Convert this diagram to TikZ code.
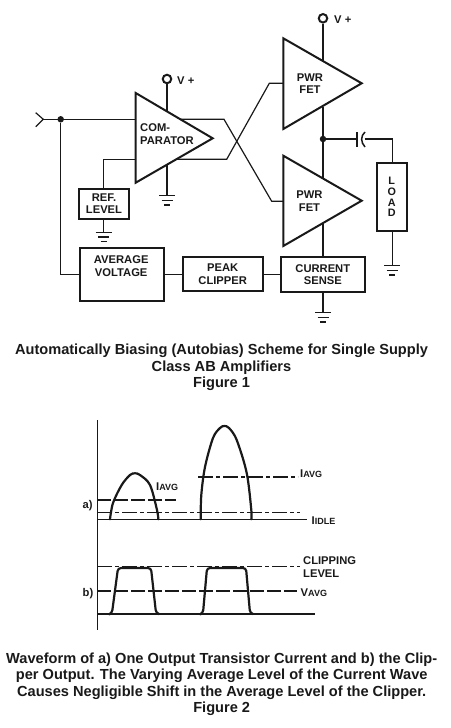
\documentclass[tikz,border=0pt]{standalone}
\usepackage{fontspec}
\setmainfont{Liberation Sans}[BoldFont={Liberation Sans Bold}]
\definecolor{ink}{gray}{0.1}
\newcommand{\gndbars}[1]{%
 \draw[wire] ($(#1)+(-8,0)$) -- ($(#1)+(8,0)$);
 \draw[wire] ($(#1)+(-5.5,4.7)$) -- ($(#1)+(5.5,4.7)$);
 \draw[wire] ($(#1)+(-3,9.2)$) -- ($(#1)+(3,9.2)$);}
\usetikzlibrary{calc}
\tikzset{
 wire/.style={draw=ink,line width=1.2pt},
 wavepen/.style={draw=ink,line width=2.2pt,line join=round,line cap=round},
 blockbox/.style={draw=ink,line width=2pt,fill=white,inner sep=0pt,align=center,font=\fontsize{11.2}{12.6}\selectfont\bfseries,text=ink},
 amp/.style={draw=ink,line width=2pt,line join=miter},
 lab/.style={inner sep=0pt,font=\fontsize{11.2}{12.6}\selectfont\bfseries,text=ink,align=center},
 captext/.style={inner sep=0pt,font=\fontsize{14.6}{16.5}\selectfont\bfseries,text=ink,align=center},
 terminal/.style={circle,draw=ink,line width=2pt,fill=white,minimum size=8.5pt,inner sep=0pt},
 junction/.style={circle,fill=ink,minimum size=6.5pt,inner sep=0pt},
 mixdash/.style={dash pattern=on 15pt off 3pt on 4pt off 3pt},
 longdash/.style={dash pattern=on 14pt off 3pt},
 dd/.style={draw=ink,line width=1.2pt}
}
\begin{document}
\begin{tikzpicture}[x=1pt,y=-1pt]
\useasboundingbox (0,0) rectangle (450,728);
\coordinate (in) at (43.3,119.3);
\node[junction] (j1) at (60.7,119.3) {};
\node[terminal] (vc) at (167,79) {};
\node[terminal] (vp) at (323,18.3) {};
\node[junction] (j2) at (323,139) {};
\coordinate (g1) at (167,195.7);
\coordinate (g2) at (103.7,232.3);
\coordinate (g3) at (323,312.7);
\coordinate (g4) at (392.3,265.7);
\draw[wire] (35.7,112.7) -- (in) -- (35.7,126.7);
\draw[wire] (in) -- (135.7,119.3);
\draw[wire] (j1) |- (79,274.3);
\draw[wire] (vc) -- (167,111);
\draw[wire] (167,165) -- (g1);
\draw[wire] (180.5,119.3) -- (224,119.3) -- (271.7,201.3) -- (283.3,201.3);
\draw[wire] (176.5,159.3) -- (226.7,159.3) -- (269.3,83.3) -- (283.3,83.3);
\draw[wire] (vp) -- (323,61);
\draw[wire] (323,107) -- (323,178.5);
\draw[wire] (323,223.5) -- (323,257.3);
\draw[wire] (j2) -- (356.7,139);
\draw[wire] (364.5,139) -- (392.3,139) -- (392.3,163.3);
\draw[wire] (392.3,230) -- (g4);
\draw[wire] (103.7,219) -- (g2);
\draw[wire] (103.7,188.7) -- (103.7,159.3) -- (135.7,159.3);
\draw[wire] (323,291.7) -- (g3);
\draw[wire] (163.3,274.3) -- (182.7,274.3);
\draw[wire] (262.7,274.3) -- (281,274.3);
\gndbars{g1}\gndbars{g2}\gndbars{g3}\gndbars{g4}
\draw[line width=1.7pt,draw=ink] (357,132) -- (357,147);
\draw[line width=1.5pt,draw=ink] (365,132) .. controls (360.5,136) and (360.5,142) .. (365,147);
\draw[amp] (135.7,93) -- (212.7,138.3) -- (135.7,182.7) -- cycle;
\draw[amp] (283.3,38.3) -- (361.7,83.3) -- (283.3,129) -- cycle;
\draw[amp] (283.3,155.7) -- (361.7,200.7) -- (283.3,246) -- cycle;
\node[lab,align=left,anchor=west] (tc) at (140,134) {COM-\\PARATOR};
\node[lab] (tf1) at (310,83.7) {PWR\\FET};
\node[lab] (tf2) at (309.5,201) {PWR\\FET};
\node[lab,anchor=west] (tv1) at (177,80.5) {V +};
\node[lab,anchor=west] (tv2) at (334,19.5) {V +};
\node[blockbox,minimum width=49.4pt,minimum height=30.3pt] (ref) at (104,203.8) {REF.\\LEVEL};
\node[blockbox,minimum width=84.3pt,minimum height=52.7pt,anchor=north west] (avg) at (79,247.3) {};
\node[lab] (avgt) at (121.2,266.3) {AVERAGE\\VOLTAGE};
\node[blockbox,minimum width=80pt,minimum height=33.7pt] (peak) at (222.7,274.2) {PEAK\\CLIPPER};
\node[blockbox,minimum width=83.7pt,minimum height=34.4pt] (sense) at (322.8,274.5) {CURRENT\\SENSE};
\node[blockbox,minimum width=30pt,minimum height=67.4pt,font=\fontsize{10.8}{10.8}\selectfont\bfseries] (load) at (391.7,197) {L\\O\\A\\D};
\node[captext] (c1) at (221.5,367.5) {Automatically Biasing (Autobias) Scheme for Single Supply\\Class AB Amplifiers\\Figure 1};
\draw[wire] (97.3,420) -- (97.3,630);
\draw[wire] (97.3,519.3) -- (306.7,519.3);
\draw[wire] (97.3,614) -- (315,614);
\draw[dd,longdash] (97.3,500) -- (176,500);
\draw[dd,mixdash] (97.3,512.3) -- (300,512.3);
\draw[dd,mixdash] (198.3,477) -- (298.3,477);
\draw[dd,mixdash] (97.3,566.7) -- (300,566.7);
\draw[dd,longdash] (97.3,591) -- (296.7,591);
\draw[wavepen] plot[smooth,tension=0.55] coordinates {(110,519.3) (113,503) (121.7,485) (130,475) (135,473.3) (140,475) (150,485) (157,510) (158.3,519.3)};
\draw[wavepen] plot[smooth,tension=0.55] coordinates {(200.7,519.3) (201.3,495) (205,467) (213,438) (220,428) (224.3,426) (229,428) (236.7,440) (246.7,473) (251.3,510) (251.3,519.3)};
\draw[wavepen,rounded corners=3pt] (110,614) -- (112,613) -- (118,568) -- (151,568) -- (156,613) -- (159,614);
\draw[wavepen,rounded corners=3pt] (201,614) -- (203,613) -- (207,568) -- (246,568) -- (250,613) -- (253,614);
\node[lab,anchor=west] (la) at (82.5,505.7) {a)};
\node[lab,anchor=west] (lb) at (82.5,593.5) {b)};
\node[lab,anchor=west] (i1) at (156,487) {I\fontsize{9}{10}\selectfont AVG};
\node[lab,anchor=west] (i2) at (300,474) {I\fontsize{9}{10}\selectfont AVG};
\node[lab,anchor=west] (i3) at (311.5,520.7) {I\fontsize{9}{10}\selectfont IDLE};
\node[lab,anchor=west,align=left] (cl) at (303,567) {CLIPPING\\LEVEL};
\node[lab,anchor=west] (va) at (300.5,592.5) {V\fontsize{9}{10}\selectfont AVG};
\node[captext] (c2) at (221.7,684) {Waveform of a) One Output Transistor Current and b) the Clip-\\per Output. The Varying Average Level of the Current Wave\\Causes Negligible Shift in the Average Level of the Clipper.\\Figure 2};
\end{tikzpicture}
\end{document}
